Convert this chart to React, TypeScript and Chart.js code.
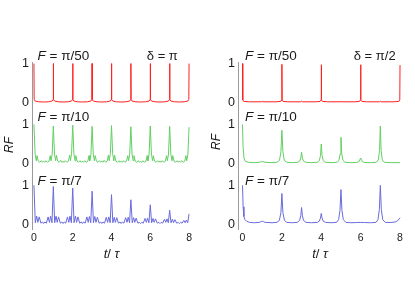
import React, { useEffect, useRef } from "react";
import { Chart, registerables } from "chart.js";

Chart.register(...registerables);

type Pt = [number, number];

// ---- tick labels / text ----
const X_TICKS = [0, 2, 4, 6, 8];
const Y_TICKS = [0, 1];
const F_LABELS = ["π/50", "π/10", "π/7"];
const DELTA_LEFT = "π";
const DELTA_RIGHT = "π/2";

// ---- left column: δ = π ----
const L_RED: Pt[] = [
  [0, 1], [0.012, 0.08], [0.06, 0.04], [0.25, 0.02], [0.5, 0.015], [0.75, 0.02], [0.94, 0.04], [0.988, 0.08],
  [1, 1], [1.012, 0.08], [1.06, 0.04], [1.25, 0.02], [1.5, 0.015], [1.75, 0.02], [1.94, 0.04], [1.988, 0.08],
  [2, 1], [2.012, 0.08], [2.06, 0.04], [2.25, 0.02], [2.5, 0.015], [2.75, 0.02], [2.94, 0.04], [2.988, 0.08],
  [3, 1], [3.012, 0.08], [3.06, 0.04], [3.25, 0.02], [3.5, 0.015], [3.75, 0.02], [3.94, 0.04], [3.988, 0.08],
  [4, 1], [4.012, 0.08], [4.06, 0.04], [4.25, 0.02], [4.5, 0.015], [4.75, 0.02], [4.94, 0.04], [4.988, 0.08],
  [5, 1], [5.012, 0.08], [5.06, 0.04], [5.25, 0.02], [5.5, 0.015], [5.75, 0.02], [5.94, 0.04], [5.988, 0.08],
  [6, 1], [6.012, 0.08], [6.06, 0.04], [6.25, 0.02], [6.5, 0.015], [6.75, 0.02], [6.94, 0.04], [6.988, 0.08],
  [7, 1], [7.012, 0.08], [7.06, 0.04], [7.25, 0.02], [7.5, 0.015], [7.75, 0.02], [7.94, 0.04], [7.988, 0.08],
  [8, 1],
];

const L_GREEN: Pt[] = [
  [0, 1], [0.06, 0.24], [0.12, 0.07], [0.16, 0.2], [0.22, 0.06], [0.3, 0.03], [0.38, 0.07], [0.44, 0.03], [0.5, 0.06], [0.56, 0.03], [0.62, 0.07], [0.7, 0.03], [0.78, 0.06], [0.84, 0.2], [0.88, 0.07], [0.94, 0.24],
  [1, 0.96], [1.06, 0.24], [1.12, 0.07], [1.16, 0.21], [1.22, 0.06], [1.3, 0.03], [1.38, 0.08], [1.44, 0.03], [1.5, 0.05], [1.56, 0.03], [1.62, 0.07], [1.7, 0.03], [1.78, 0.06], [1.84, 0.21], [1.88, 0.07], [1.94, 0.25],
  [2, 0.98], [2.06, 0.25], [2.12, 0.07], [2.16, 0.2], [2.22, 0.06], [2.3, 0.03], [2.38, 0.07], [2.44, 0.03], [2.5, 0.06], [2.56, 0.03], [2.62, 0.07], [2.7, 0.03], [2.78, 0.06], [2.84, 0.2], [2.88, 0.07], [2.94, 0.24],
  [3, 0.95], [3.06, 0.24], [3.12, 0.07], [3.16, 0.2], [3.22, 0.06], [3.3, 0.03], [3.38, 0.07], [3.44, 0.03], [3.5, 0.06], [3.56, 0.03], [3.62, 0.08], [3.7, 0.03], [3.78, 0.06], [3.84, 0.21], [3.88, 0.07], [3.94, 0.25],
  [4, 0.97], [4.06, 0.25], [4.12, 0.07], [4.16, 0.21], [4.22, 0.06], [4.3, 0.03], [4.38, 0.07], [4.44, 0.03], [4.5, 0.06], [4.56, 0.03], [4.62, 0.07], [4.7, 0.03], [4.78, 0.06], [4.84, 0.2], [4.88, 0.07], [4.94, 0.24],
  [5, 0.94], [5.06, 0.24], [5.12, 0.07], [5.16, 0.2], [5.22, 0.06], [5.3, 0.03], [5.38, 0.07], [5.44, 0.03], [5.5, 0.05], [5.56, 0.03], [5.62, 0.07], [5.7, 0.03], [5.78, 0.06], [5.84, 0.2], [5.88, 0.07], [5.94, 0.24],
  [6, 0.96], [6.06, 0.24], [6.12, 0.07], [6.16, 0.2], [6.22, 0.06], [6.3, 0.03], [6.38, 0.07], [6.44, 0.03], [6.5, 0.06], [6.56, 0.03], [6.62, 0.07], [6.7, 0.03], [6.78, 0.06], [6.84, 0.2], [6.88, 0.07], [6.94, 0.24],
  [7, 0.95], [7.06, 0.24], [7.12, 0.07], [7.16, 0.2], [7.22, 0.06], [7.3, 0.03], [7.38, 0.07], [7.44, 0.03], [7.5, 0.06], [7.56, 0.03], [7.62, 0.07], [7.7, 0.03], [7.78, 0.06], [7.84, 0.2], [7.88, 0.07], [7.94, 0.24],
  [8, 0.93],
];

const L_BLUE: Pt[] = [
  [0, 1], [0.07, 0.04], [0.14, 0.21], [0.2, 0.05], [0.27, 0.19], [0.36, 0.03], [0.44, 0.06], [0.5, 0.02], [0.56, 0.06], [0.64, 0.03], [0.73, 0.19], [0.8, 0.05], [0.86, 0.21], [0.93, 0.04],
  [1, 0.97], [1.07, 0.04], [1.14, 0.21], [1.2, 0.05], [1.27, 0.19], [1.36, 0.03], [1.44, 0.06], [1.5, 0.02], [1.56, 0.06], [1.64, 0.03], [1.73, 0.19], [1.8, 0.05], [1.86, 0.21], [1.93, 0.04],
  [2, 0.93], [2.07, 0.04], [2.14, 0.21], [2.2, 0.05], [2.27, 0.19], [2.36, 0.03], [2.44, 0.06], [2.5, 0.02], [2.56, 0.06], [2.64, 0.03], [2.73, 0.19], [2.8, 0.05], [2.86, 0.2], [2.93, 0.04],
  [3, 0.85], [3.07, 0.04], [3.14, 0.2], [3.2, 0.05], [3.27, 0.18], [3.36, 0.03], [3.44, 0.06], [3.5, 0.02], [3.56, 0.06], [3.64, 0.03], [3.73, 0.18], [3.8, 0.05], [3.86, 0.19], [3.93, 0.04],
  [4, 0.76], [4.07, 0.04], [4.14, 0.18], [4.2, 0.05], [4.27, 0.17], [4.36, 0.03], [4.44, 0.06], [4.5, 0.02], [4.56, 0.06], [4.64, 0.03], [4.73, 0.17], [4.8, 0.05], [4.86, 0.18], [4.93, 0.04],
  [5, 0.63], [5.07, 0.04], [5.14, 0.17], [5.2, 0.05], [5.27, 0.16], [5.36, 0.03], [5.44, 0.05], [5.5, 0.02], [5.56, 0.05], [5.64, 0.03], [5.73, 0.15], [5.8, 0.05], [5.86, 0.16], [5.93, 0.04],
  [6, 0.5], [6.07, 0.04], [6.14, 0.15], [6.2, 0.05], [6.27, 0.14], [6.36, 0.03], [6.44, 0.05], [6.5, 0.02], [6.56, 0.05], [6.64, 0.03], [6.73, 0.13], [6.8, 0.05], [6.86, 0.14], [6.93, 0.04],
  [7, 0.36], [7.07, 0.04], [7.14, 0.13], [7.2, 0.04], [7.27, 0.12], [7.36, 0.03], [7.44, 0.05], [7.5, 0.02], [7.56, 0.05], [7.64, 0.03], [7.73, 0.1], [7.8, 0.04], [7.86, 0.11], [7.93, 0.04],
  [8, 0.27],
];

// ---- right column: δ = π/2 ----
const R_RED: Pt[] = [
  [0, 1], [0.012, 0.07], [0.06, 0.03], [0.3, 0.02], [0.96, 0.02], [1, 0.035], [1.04, 0.02], [1.7, 0.02], [1.94, 0.03], [1.988, 0.07],
  [2, 0.98], [2.012, 0.07], [2.06, 0.03], [2.3, 0.02], [2.96, 0.02], [3, 0.035], [3.04, 0.02], [3.7, 0.02], [3.94, 0.03], [3.988, 0.07],
  [4, 0.97], [4.012, 0.07], [4.06, 0.03], [4.3, 0.02], [4.96, 0.02], [5, 0.035], [5.04, 0.02], [5.7, 0.02], [5.94, 0.03], [5.988, 0.07],
  [6, 0.97], [6.012, 0.07], [6.06, 0.03], [6.3, 0.02], [6.96, 0.02], [7, 0.035], [7.04, 0.02], [7.7, 0.02], [7.94, 0.03], [7.988, 0.07],
  [8, 0.96],
];

const R_GREEN: Pt[] = [
  [0, 1], [0.03, 0.4], [0.08, 0.12], [0.15, 0.05], [0.3, 0.03], [0.6, 0.02], [0.85, 0.03], [0.95, 0.045], [1, 0.05], [1.05, 0.045], [1.15, 0.03],
  [1.5, 0.02], [1.75, 0.03], [1.88, 0.08], [1.95, 0.3], [2, 0.85], [2.05, 0.3], [2.12, 0.08], [2.25, 0.03],
  [2.5, 0.02], [2.8, 0.03], [2.9, 0.06], [2.96, 0.14], [3, 0.29], [3.04, 0.14], [3.1, 0.06], [3.2, 0.03],
  [3.5, 0.02], [3.8, 0.03], [3.9, 0.07], [3.96, 0.2], [4, 0.5], [4.04, 0.2], [4.1, 0.07], [4.2, 0.03],
  [4.5, 0.02], [4.8, 0.03], [4.9, 0.08], [4.96, 0.25], [5, 0.67], [5.04, 0.25], [5.1, 0.08], [5.2, 0.03],
  [5.5, 0.02], [5.8, 0.025], [5.92, 0.05], [6, 0.14], [6.08, 0.05], [6.2, 0.025],
  [6.5, 0.02], [6.8, 0.03], [6.9, 0.09], [6.96, 0.33], [7, 0.96], [7.04, 0.33], [7.1, 0.09], [7.2, 0.03],
  [7.5, 0.02], [8, 0.02],
];

const R_BLUE: Pt[] = [
  [0, 1], [0.03, 0.45], [0.07, 0.2], [0.12, 0.12], [0.2, 0.08], [0.35, 0.05], [0.6, 0.04], [0.85, 0.05], [0.95, 0.07], [1, 0.08], [1.05, 0.07], [1.15, 0.05],
  [1.5, 0.04], [1.75, 0.05], [1.87, 0.1], [1.95, 0.3], [2, 0.79], [2.05, 0.3], [2.13, 0.1], [2.25, 0.05],
  [2.5, 0.04], [2.78, 0.05], [2.9, 0.1], [2.96, 0.22], [3, 0.43], [3.04, 0.22], [3.1, 0.1], [3.22, 0.05],
  [3.5, 0.04], [3.8, 0.05], [3.9, 0.08], [3.96, 0.16], [4, 0.28], [4.04, 0.16], [4.1, 0.08], [4.22, 0.05],
  [4.5, 0.04], [4.78, 0.05], [4.88, 0.12], [4.95, 0.35], [5, 0.89], [5.05, 0.35], [5.12, 0.12], [5.25, 0.05],
  [5.5, 0.04], [5.8, 0.045], [6, 0.05], [6.2, 0.045],
  [6.5, 0.04], [6.78, 0.05], [6.88, 0.12], [6.95, 0.38], [7, 1], [7.05, 0.38], [7.12, 0.12], [7.25, 0.05],
  [7.5, 0.045], [7.75, 0.06], [7.88, 0.09], [7.96, 0.14], [8, 0.17],
];

// ---- styling ----
const FONT = '"Liberation Sans", Arial, Helvetica, sans-serif';
const TEXT = "#1a1a1a";
const AXIS = "#9a9a9a";
const COLORS = ["#ff2020", "#62cf62", "#6a6ade"];
const Y_MIN = -0.12;
const Y_MAX = [1.04, 1.44, 1.44];
const LABEL_Y = [1.1, 1.085, 1.01];

interface ColumnSpec {
  left: number;
  width: number;
  series: Pt[][];
  delta: string;
  xMin: number;
  xMax: number;
  axisWidth: number;
  padRight: number;
  fx: number;
  dx: number;
  rfX: number;
  rfY: number;
}

const SPECS: ColumnSpec[] = [
  { left: 0, width: 207, series: [L_RED, L_GREEN, L_BLUE], delta: DELTA_LEFT, xMin: -0.1, xMax: 8.1, axisWidth: 32, padRight: 16, fx: 0.19, dx: 5.82, rfX: 10, rfY: 145 },
  { left: 207, width: 208, series: [R_RED, R_GREEN, R_BLUE], delta: DELTA_RIGHT, xMin: -0.23, xMax: 8.1, axisWidth: 31, padRight: 13, fx: 0.13, dx: 5.65, rfX: 10, rfY: 142 },
];

function Column({ spec }: { spec: ColumnSpec }) {
  const ref = useRef<HTMLCanvasElement>(null);
  useEffect(() => {
    const canvas = ref.current;
    if (!canvas) return;

    const labelPlugin = {
      id: "panelLabels",
      afterDraw(chart: any) {
        const ctx = chart.ctx as CanvasRenderingContext2D;
        const xs = chart.scales.x;
        ctx.save();
        ctx.fillStyle = TEXT;
        ctx.textBaseline = "alphabetic";
        ctx.textAlign = "left";
        for (let i = 0; i < 3; i++) {
          const ys = chart.scales["y" + i];
          const y = ys.getPixelForValue(LABEL_Y[i]);
          let x = xs.getPixelForValue(spec.fx);
          ctx.font = `italic 13.5px ${FONT}`;
          ctx.fillText("F", x, y);
          x += ctx.measureText("F").width;
          ctx.font = `13.5px ${FONT}`;
          ctx.fillText(" = " + F_LABELS[i], x, y);
        }
        const yd = chart.scales.y0.getPixelForValue(LABEL_Y[0]);
        ctx.font = `13px ${FONT}`;
        ctx.fillText("δ = " + spec.delta, xs.getPixelForValue(spec.dx), yd);

        // RF
        ctx.save();
        ctx.translate(spec.rfX, spec.rfY);
        ctx.rotate(-Math.PI / 2);
        ctx.textAlign = "center";
        ctx.textBaseline = "middle";
        ctx.font = `italic 12px ${FONT}`;
        ctx.fillText("RF", 0, 0);
        ctx.restore();

        // x title t/ τ
        const parts: [string, string][] = [["t", "italic "], ["/ ", ""], ["τ", "italic "]];
        let total = 0;
        const widths = parts.map(([s, st]) => {
          ctx.font = `${st}13px ${FONT}`;
          const w = ctx.measureText(s).width;
          total += w;
          return w;
        });
        const cx = (chart.chartArea.left + chart.chartArea.right) / 2;
        let px = cx - total / 2;
        parts.forEach(([s, st], k) => {
          ctx.font = `${st}13px ${FONT}`;
          ctx.fillText(s, px, 258);
          px += widths[k];
        });
        ctx.restore();
      },
    };

    const yScale = (i: number) => ({
      type: "linear",
      position: "left",
      stack: "col",
      stackWeight: Y_MAX[i] - Y_MIN,
      weight: 3 - i,
      min: Y_MIN,
      max: Y_MAX[i],
      afterBuildTicks: (s: any) => {
        s.ticks = Y_TICKS.map((v) => ({ value: v }));
      },
      afterFit: (s: any) => {
        s.width = spec.axisWidth;
      },
      grid: { display: false, drawTicks: false },
      border: { display: true, color: AXIS, width: 1 },
      ticks: { font: { family: FONT, size: 12.5 }, color: TEXT, padding: 3 },
    });

    const chart = new Chart(canvas, {
      type: "line",
      data: {
        datasets: spec.series.map((s, i) => ({
          data: s.map(([x, y]) => ({ x, y })),
          borderColor: COLORS[i],
          borderWidth: 1,
          pointRadius: 0,
          tension: 0,
          fill: false,
          yAxisID: "y" + i,
          xAxisID: "x",
        })),
      },
      options: {
        animation: false,
        responsive: false,
        devicePixelRatio: 1,
        parsing: false as any,
        layout: { padding: { top: 62, left: 0, right: spec.padRight, bottom: 0 } },
        plugins: { legend: { display: false }, tooltip: { enabled: false } },
        scales: {
          x: {
            type: "linear",
            min: spec.xMin,
            max: spec.xMax,
            afterBuildTicks: (s: any) => {
              s.ticks = X_TICKS.map((v) => ({ value: v }));
            },
            afterFit: (s: any) => {
              s.height = 65;
            },
            grid: { display: false, drawTicks: false },
            border: { display: false },
            ticks: { font: { family: FONT, size: 10.5 }, color: TEXT, padding: 3, maxRotation: 0 },
          },
          y0: yScale(0),
          y1: yScale(1),
          y2: yScale(2),
        } as any,
      },
      plugins: [labelPlugin],
    } as any);
    return () => chart.destroy();
  }, [spec]);

  return (
    <canvas
      ref={ref}
      width={spec.width}
      height={294}
      style={{ position: "absolute", left: spec.left, top: 0, width: spec.width, height: 294 }}
    />
  );
}

export default function App() {
  return (
    <div style={{ position: "absolute", left: 0, top: 0, width: 415, height: 294, background: "#fff" }}>
      {SPECS.map((s, i) => (
        <Column key={i} spec={s} />
      ))}
    </div>
  );
}
